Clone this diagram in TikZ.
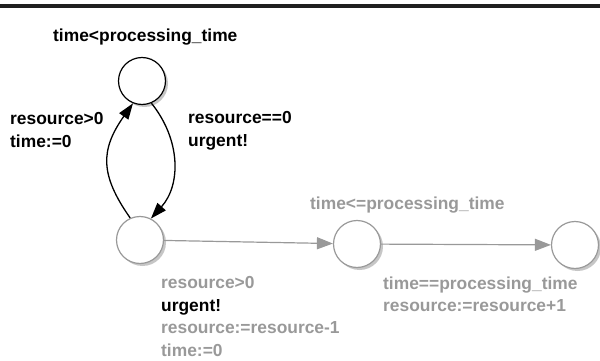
\documentclass[tikz,border=0pt]{standalone}
\usepackage{fontspec}
\setmainfont{Liberation Sans}
\usetikzlibrary{arrows.meta,shadows,positioning}

\definecolor{inactive}{gray}{0.6}

\tikzset{
	location/.style={circle, minimum size=47pt, inner sep=0pt, line width=1.2pt, fill=white,
		drop shadow={shadow xshift=2.5pt, shadow yshift=-2.5pt, opacity=0.45}},
	edgelabel/.style={align=left, anchor=north west, inner sep=0pt},
	active/.style={line width=1.3pt, -{Triangle[length=16pt,width=11pt]}},
	passive/.style={draw=inactive, line width=1.2pt, -{Triangle[length=16pt,width=12pt]}}
}

\begin{document}
\begin{tikzpicture}[x=1pt, y=-1pt, every node/.style={font=\fontsize{17.4}{22.4}\selectfont\bfseries}]
	\useasboundingbox (0,0) rectangle (600,361);
	\fill[black!88] (0,4.5) rectangle (600,8);

	% locations
	\node[location, draw=black] (waiting) at (142,81) {};
	\node[location, draw=inactive] (idle) at (140,240) {};
	\node[location, draw=inactive] (processing) at (357,244) {};
	\node[location, draw=inactive] (finished) at (575,245) {};

	% invariants
	\node[edgelabel] (invwait) at (53,28.5) {time<processing\_time};
	\node[edgelabel, text=inactive] (invproc) at (310,196.5) {time<=processing\_time};

	% transitions
	\draw[active] (idle.114) .. controls (100,175) and (100,150) .. (waiting.-112);
	\draw[active] (waiting.-67) .. controls (181,140) and (181,185) .. (idle.63);
	\draw[passive] (idle) -- (processing);
	\draw[passive] (processing) -- (finished);

	% guards, syncs and updates
	\node[edgelabel] (grab) at (10,112.5) {resource>0\\time:=0};
	\node[edgelabel] (block) at (188,111.5) {resource==0\\urgent!};
	\node[edgelabel] (start) at (161,276.5) {\textcolor{inactive}{resource>0}\\urgent!\\\textcolor{inactive}{resource:=resource-1}\\\textcolor{inactive}{time:=0}};
	\node[edgelabel, text=inactive] (release) at (383,276.5) {time==processing\_time\\resource:=resource+1};
\end{tikzpicture}
\end{document}
